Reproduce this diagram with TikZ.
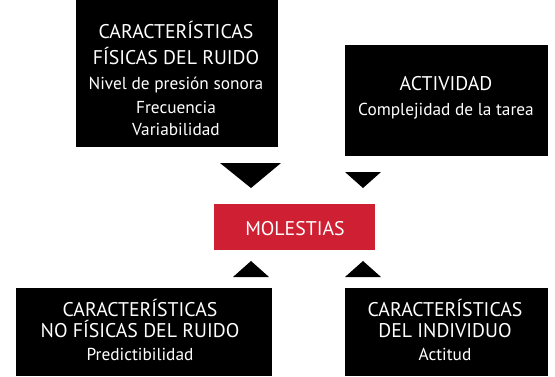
\documentclass[tikz,border=0pt]{standalone}
\usepackage{fontspec}
\setmainfont{PT Sans}
\definecolor{molred}{RGB}{207,31,50}

\tikzset{
  box/.style={fill=black, inner sep=0pt},
  redbox/.style={fill=molred, inner sep=0pt},
  head/.style={text=white, anchor=base, inner sep=0pt, font=\fontsize{19.8}{22}\selectfont},
  sub/.style={text=white, anchor=base, inner sep=0pt, font=\fontsize{17.3}{19}\selectfont},
  tip/.style={fill=black}
}

\begin{document}
\begin{tikzpicture}[x=1pt,y=-1pt]
  \useasboundingbox (0,0) rectangle (555,376); % page size

  % boxes
  \node[box, minimum width=202pt, minimum height=147pt] (fis) at (177,73.5) {};
  \node[box, minimum width=203pt, minimum height=111pt] (act) at (446.5,100.5) {};
  \node[redbox, minimum width=161pt, minimum height=46pt] (mol) at (294.5,227) {};
  \node[box, minimum width=256pt, minimum height=88pt] (nofis) at (144,332) {};
  \node[box, minimum width=203pt, minimum height=88pt] (ind) at (446.5,332) {};

  % triangles towards MOLESTIAS
  \fill[tip] (220,163) -- (281,163) -- (251,188) -- cycle; % big one
  \fill[tip] (345,172) -- (381,172) -- (363,188) -- cycle;
  \fill[tip] (233,277) -- (269,277) -- (251,261) -- cycle;
  \fill[tip] (345,277) -- (381,277) -- (363,261) -- cycle;

  % texts of the first box
  \node[head] (fis1) at (176,38) {CARACTERÍSTICAS};
  \node[head] (fis2) at (176,64) {FÍSICAS DEL RUIDO};
  \node[sub] (fis3) at (176,89) {Nivel de presión sonora};
  \node[sub] (fis4) at (176,113) {Frecuencia};
  \node[sub] (fis5) at (176,135) {Variabilidad};

  % texts of the second box
  \node[head] (act1) at (446,90) {ACTIVIDAD};
  \node[sub] (act2) at (446,115) {Complejidad de la tarea};

  % center
  \node[head] (mol1) at (295,235) {MOLESTIAS};

  % texts of the lower boxes
  \node[head] (nofis1) at (140,316) {CARACTERÍSTICAS};
  \node[head] (nofis2) at (140,337) {NO FÍSICAS DEL RUIDO};
  \node[sub] (nofis3) at (140,360) {Predictibilidad};
  \node[head] (ind1) at (445,316) {CARACTERÍSTICAS};
  \node[head] (ind2) at (445,337) {DEL INDIVIDUO};
  \node[sub] (ind3) at (445,360) {Actitud};
\end{tikzpicture}
\end{document}
